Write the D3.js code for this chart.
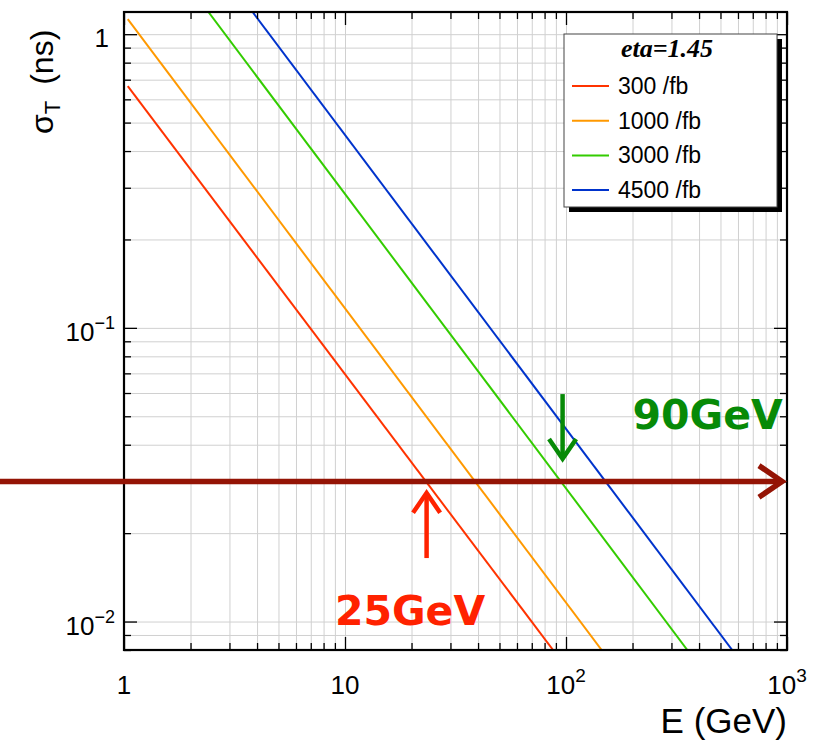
<!DOCTYPE html>
<html>
<head>
<meta charset="utf-8">
<style>
  body { margin: 0; background: #fff; }
  svg text { font-family: "Liberation Sans", Arial, sans-serif; }
</style>
</head>
<body>
<svg id="chart" width="821" height="743"></svg>
<script src="https://d3js.org/d3.v7.min.js"></script>
<script>
    // series: end points of each resolution line
    const seriesNames = ['300 /fb', '1000 /fb', '3000 /fb', '4500 /fb'];
    const seriesColors = ['#ff3300', '#ff9900', '#33cc00', '#0033cc'];
    const seriesE = [[1.04, 87.4], [1.04, 145], [2.41, 354], [3.82, 565]];
    const seriesSigma = [[0.665, 0.008], [1.125, 0.008], [1.19, 0.008], [1.19, 0.008]];

    const xTickVals = [1, 10, 100, 1000];
    const xTickLabels = [['1', ''], ['10', ''], ['10', '2'], ['10', '3']];
    const yTickVals = [1, 0.1, 0.01];
    const yTickLabels = [['1', ''], ['10', '\u22121'], ['10', '\u22122']];

    // annotations
    const cutSigma = 0.03;
    const cutE = [0.27, 950];
    const redArrow = {E: 23.4, from: 0.01645, to: 0.0274};
    const greenArrow = {E: 96.5, from: 0.0595, to: 0.0358};
    const labels = [
        {text: '25GeV', E: 9.0, sigma: 0.00973, color: '#ff2200'},
        {text: '90GeV', E: 200, sigma: 0.0453, color: '#078a07'}
    ];

    const mLeft = 124, mRight = 787, mTop = 12, mBottom = 650;

    const svg = d3.select('#chart');
    const x = d3.scaleLog().domain([1, 1000]).range([mLeft, mRight]);
    const y = d3.scaleLog().domain([0.008, 1.19]).range([mBottom, mTop]);

    // minor tick values
    let xMinor = [];
    for (let d = 1; d < 1000; d *= 10)
        for (let k = 2; k <= 9; k++) xMinor.push(d * k);
    let yMinor = [0.008, 0.009];
    for (let d = 0.01; d < 1; d *= 10)
        for (let k = 2; k <= 9; k++) yMinor.push(+(d * k).toPrecision(3));
    const xAll = xTickVals.concat(xMinor);
    const yAll = yTickVals.concat(yMinor);

    // grid
    svg.append('g')
        .attr('transform', `translate(0,${mBottom})`)
        .call(d3.axisBottom(x).tickValues(xAll).tickSize(-(mBottom - mTop)).tickFormat(''))
        .call(g => g.select('.domain').remove())
        .selectAll('line').attr('stroke', '#d0d0d0').attr('stroke-width', 1);
    svg.append('g')
        .attr('transform', `translate(${mLeft},0)`)
        .call(d3.axisLeft(y).tickValues(yAll).tickSize(-(mRight - mLeft)).tickFormat(''))
        .call(g => g.select('.domain').remove())
        .selectAll('line').attr('stroke', '#d0d0d0').attr('stroke-width', 1);

    // curves
    svg.append('clipPath').attr('id', 'clip')
        .append('rect').attr('x', mLeft).attr('y', mTop)
        .attr('width', mRight - mLeft).attr('height', mBottom - mTop);

    const line = d3.line().x(d => x(d[0])).y(d => y(d[1]));
    svg.append('g').attr('clip-path', 'url(#clip)')
        .selectAll('path')
        .data(seriesE.map((e, i) => e.map((v, j) => [v, seriesSigma[i][j]])))
        .join('path')
        .attr('d', line)
        .attr('fill', 'none')
        .attr('stroke', (d, i) => seriesColors[i])
        .attr('stroke-width', 2);

    // ticks on all four sides, pointing inwards
    function ticks(axis, vals, size, tr) {
        svg.append('g')
            .attr('transform', tr)
            .call(axis.tickValues(vals).tickSize(size).tickFormat(''))
            .call(g => g.select('.domain').remove())
            .selectAll('line').attr('stroke', '#000').attr('stroke-width', 1.3);
    }
    ticks(d3.axisBottom(x), xTickVals, -13, `translate(0,${mBottom})`);
    ticks(d3.axisBottom(x), xMinor, -7, `translate(0,${mBottom})`);
    ticks(d3.axisTop(x), xTickVals, -13, `translate(0,${mTop})`);
    ticks(d3.axisTop(x), xMinor, -7, `translate(0,${mTop})`);
    ticks(d3.axisLeft(y), yTickVals, -13, `translate(${mLeft},0)`);
    ticks(d3.axisLeft(y), yMinor, -7, `translate(${mLeft},0)`);
    ticks(d3.axisRight(y), yTickVals, -13, `translate(${mRight},0)`);
    ticks(d3.axisRight(y), yMinor, -7, `translate(${mRight},0)`);

    // frame
    svg.append('rect')
        .attr('x', mLeft).attr('y', mTop)
        .attr('width', mRight - mLeft).attr('height', mBottom - mTop)
        .attr('fill', 'none').attr('stroke', '#000').attr('stroke-width', 2.2);

    // tick labels
    xTickVals.forEach((v, i) => {
        const t = svg.append('text')
            .attr('x', x(v)).attr('y', 694)
            .attr('text-anchor', 'middle')
            .attr('font-size', 26);
        t.append('tspan').text(xTickLabels[i][0]);
        if (xTickLabels[i][1])
            t.append('tspan').attr('font-size', 19).attr('dy', -12).text(xTickLabels[i][1]);
    });
    yTickVals.forEach((v, i) => {
        const t = svg.append('text')
            .attr('x', i === 0 ? 109 : 115).attr('y', y(v) + 13)
            .attr('text-anchor', 'end')
            .attr('font-size', 26);
        t.append('tspan').text(yTickLabels[i][0]);
        if (yTickLabels[i][1])
            t.append('tspan').attr('font-size', 18).attr('dy', -12).text(yTickLabels[i][1]);
    });

    // axis titles
    svg.append('text')
        .attr('x', mRight).attr('y', 733)
        .attr('text-anchor', 'end')
        .attr('font-size', 35)
        .text('E (GeV)');

    const yt = svg.append('text')
        .attr('transform', 'translate(53,134) rotate(-90)')
        .attr('font-size', 32);
    yt.append('tspan').text('\u03c3');
    yt.append('tspan').attr('font-size', 22).attr('dy', 7).text('T');
    yt.append('tspan').attr('dy', -7).attr('dx', 16).text('(ns)');

    // legend
    const lg = svg.append('g');
    const lx = 564, ly = 34, lw = 213, lh = 173;
    lg.append('rect').attr('x', lx + 5).attr('y', ly + 5).attr('width', lw).attr('height', lh).attr('fill', '#000');
    lg.append('rect').attr('x', lx).attr('y', ly).attr('width', lw).attr('height', lh)
        .attr('fill', '#fff').attr('stroke', '#444').attr('stroke-width', 1);
    lg.append('text')
        .attr('x', lx + 103).attr('y', ly + 23)
        .attr('text-anchor', 'middle')
        .style('font-family', '"Liberation Serif", "Times New Roman", serif')
        .attr('font-size', 26).attr('font-weight', 'bold').attr('font-style', 'italic')
        .text('eta=1.45');
    seriesNames.forEach((name, i) => {
        const cy = 86 + i * 34.7;
        lg.append('line')
            .attr('x1', 572).attr('x2', 609).attr('y1', cy).attr('y2', cy)
            .attr('stroke', seriesColors[i]).attr('stroke-width', 2);
        lg.append('text')
            .attr('x', 618).attr('y', cy + 8)
            .attr('font-size', 23)
            .text(name);
    });

    // annotations
    function arrow(x1, y1, x2, y2, color, w, head) {
        const a = Math.atan2(y2 - y1, x2 - x1);
        const g = svg.append('g').attr('stroke', color).attr('stroke-width', w)
            .attr('fill', 'none').attr('stroke-linecap', 'butt');
        g.append('line').attr('x1', x1).attr('y1', y1).attr('x2', x2).attr('y2', y2);
        const p1 = [x2 - head * Math.cos(a - 0.6), y2 - head * Math.sin(a - 0.6)];
        const p2 = [x2 - head * Math.cos(a + 0.6), y2 - head * Math.sin(a + 0.6)];
        g.append('path').attr('d', `M${p1}L${x2},${y2}L${p2}`).attr('stroke-linejoin', 'miter');
    }
    arrow(0, y(cutSigma), x(cutE[1]), y(cutSigma), '#941405', 5.5, 28);
    arrow(x(redArrow.E), y(redArrow.from), x(redArrow.E), y(redArrow.to), '#ff2200', 4.5, 24);
    arrow(x(greenArrow.E), y(greenArrow.from), x(greenArrow.E), y(greenArrow.to), '#078a07', 4.5, 24);

    labels.forEach(l => {
        svg.append('text')
            .attr('x', x(l.E)).attr('y', y(l.sigma))
            .style('font-family', '"DejaVu Sans", sans-serif')
            .attr('font-weight', 'bold')
            .attr('font-size', 41)
            .attr('fill', l.color)
            .text(l.text);
    });
</script>
</body>
</html>
